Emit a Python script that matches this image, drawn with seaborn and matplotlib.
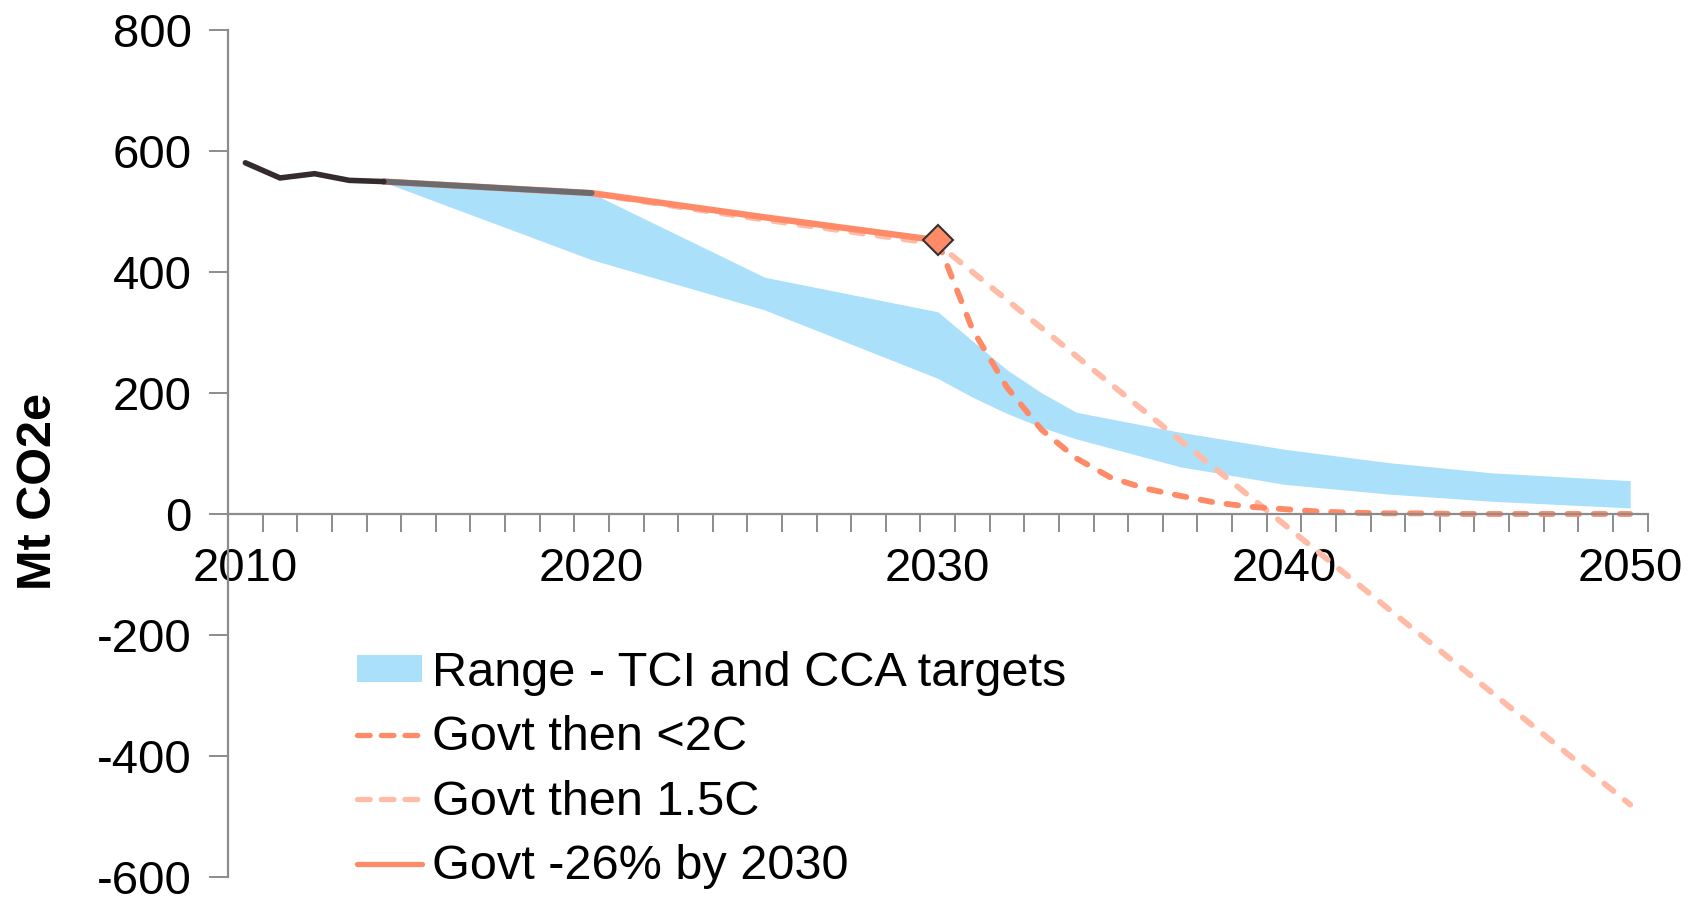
import numpy as np
import pandas as pd
import matplotlib
matplotlib.use("Agg")
import matplotlib.pyplot as plt
import seaborn as sns
from matplotlib.patches import Patch
from matplotlib.lines import Line2D

# ---- data ----
hist_years = [2010, 2011, 2012, 2013, 2014]
hist_vals = [580, 555, 562, 551, 549]

proj_years = [2014, 2020]
proj_vals = [549, 530]

govt_years = [2014, 2020, 2025, 2030]
govt_vals = [549, 530, 490, 452]

c15_years = [2020, 2025, 2030, 2050]
c15_vals = [529, 486, 446, -480]

c2_years = [2030, 2031, 2032, 2033, 2034, 2035, 2036, 2037, 2038, 2039,
            2040, 2041, 2042, 2043, 2044, 2045, 2050]
c2_vals = [450, 305, 209, 139, 92, 60, 42, 30, 19, 12, 8, 4, 2, 1, 1, 0, 0]

band_years = [2014, 2020, 2025, 2030, 2031, 2032, 2033, 2034, 2037,
              2040, 2043, 2046, 2050]
band_upper = [549, 530, 391, 334, 286, 238, 200, 168, 135, 107, 85, 68, 55]
band_lower = [548, 420, 337, 224, 193, 166, 143, 124, 78, 49, 33, 21, 10]

legend_labels = ["Range - TCI and CCA targets", "Govt then <2C",
                 "Govt then 1.5C", "Govt -26% by 2030"]

# ---- colours ----
BLUE = "#abe0fa"
ORANGE = "#ff8a68"
LIGHT = "#ffbba6"
DARK = "#342c2c"
GREY = "#6b6c70"
AXIS = "#8c8c8c"

sns.set_style("white")
plt.rcParams["font.family"] = ["Liberation Sans", "DejaVu Sans"]
plt.rcParams["axes.unicode_minus"] = False
plt.rcParams["text.color"] = "black"
plt.rcParams["axes.labelcolor"] = "black"
plt.rcParams["xtick.labelcolor"] = "black"
plt.rcParams["ytick.labelcolor"] = "black"

fig = plt.figure(figsize=(17.02, 8.97), dpi=100)
ax = fig.add_axes([0.134, 0.022, 0.834, 0.945])

ax.fill_between(band_years, band_lower, band_upper, color=BLUE, linewidth=0)

DASH = (0, (2.0, 2.5))
sns.lineplot(x=c15_years, y=c15_vals, ax=ax, color=LIGHT, lw=4.2,
             linestyle=DASH, dash_capstyle="round")
sns.lineplot(x=c2_years, y=c2_vals, ax=ax, color=ORANGE, lw=4.2,
             linestyle=DASH, dash_capstyle="round")
sns.lineplot(x=govt_years, y=govt_vals, ax=ax, color=ORANGE, lw=4.6,
             solid_capstyle="round")
sns.lineplot(x=proj_years, y=proj_vals, ax=ax, color=GREY, lw=4.2,
             solid_capstyle="round")
sns.lineplot(x=hist_years, y=hist_vals, ax=ax, color=DARK, lw=4.0,
             solid_capstyle="round", solid_joinstyle="miter")
ax.plot([govt_years[-1]], [govt_vals[-1]], marker="D", ms=15, color=ORANGE,
        mec="#333333", mew=1.5, zorder=6)

# ---- axes ----
ax.set_xlim(2009.5, 2050.5)
ax.set_ylim(-600, 800)
ax.set_yticks(range(-600, 801, 200))
ax.set_xticks([2010, 2020, 2030, 2040, 2050])
ax.set_xticks(np.arange(2009.5, 2051, 1), minor=True)

for s in ["top", "right"]:
    ax.spines[s].set_visible(False)
ax.spines["bottom"].set_position(("data", 0))
for s in ["left", "bottom"]:
    ax.spines[s].set_color(AXIS)
    ax.spines[s].set_linewidth(1.6)

ax.tick_params(axis="y", direction="out", length=14, width=1.4, color=AXIS,
               labelsize=34, pad=12, left=True)
ax.tick_params(axis="x", which="major", length=0, labelsize=34, pad=24,
               bottom=True)
ax.tick_params(axis="x", which="minor", direction="out", length=13,
               width=1.4, color=AXIS, bottom=True)

ax.set_xlabel("")
ax.set_ylabel("Mt CO2e", fontsize=35, fontweight="bold")
ax.yaxis.set_label_coords(-0.118, 0.455)

LEG_DASH = (0, (2.4, 2.1))
handles = [
    Patch(facecolor=BLUE, edgecolor="none"),
    Line2D([], [], color=ORANGE, lw=3.8, linestyle=LEG_DASH,
           dash_capstyle="round"),
    Line2D([], [], color=LIGHT, lw=3.8, linestyle=LEG_DASH,
           dash_capstyle="round"),
    Line2D([], [], color=ORANGE, lw=3.8, solid_capstyle="round"),
]
ax.legend(handles, legend_labels, loc="upper left", frameon=False,
          bbox_to_anchor=(0.077, 0.29), fontsize=35, handlelength=1.35,
          handleheight=0.5, handletextpad=0.2, labelspacing=0.40,
          borderaxespad=0)

fig.savefig("out.png", dpi=100)
